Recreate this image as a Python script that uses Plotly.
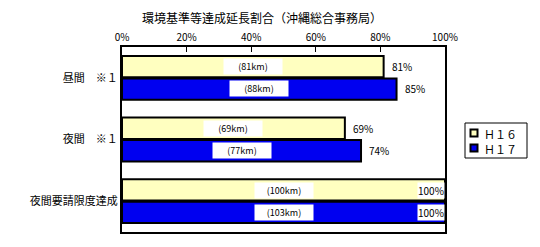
import plotly.graph_objects as go

categories = ["昼間　※１", "夜間　※１", "夜間要請限度達成"]
series_names = ["Ｈ１６", "Ｈ１７"]
h16_pct = [81, 69, 100]
h17_pct = [85, 74, 100]
h16_km = ["(81km)", "(69km)", "(100km)"]
h17_km = ["(88km)", "(77km)", "(103km)"]
tick_vals = [0, 20, 40, 60, 80, 100]
tick_text = ["0%", "20%", "40%", "60%", "80%", "100%"]
title_text = "環境基準等達成延長割合（沖縄総合事務局）"

colors = ["#FFFFC0", "#0000F0"]
FONT = "Noto Sans CJK JP"

W, H = 540, 247
L, R, T, B = 122, 95, 47, 15
plot_w = W - L - R
plot_h = H - T - B


def px_x(px):
    return (px - L) / plot_w


def px_y(py):
    return (H - B - py) / plot_h


fig = go.Figure()
for name, vals, col in zip(series_names, [h16_pct, h17_pct], colors):
    fig.add_trace(go.Bar(
        y=categories, x=vals, name=name, orientation="h",
        marker=dict(color=col, line=dict(color="black", width=2)),
        hoverinfo="skip", showlegend=False,
    ))

offsets = [-0.18, 0.18]
annotations = []
for si, (vals, kms) in enumerate([(h16_pct, h16_km), (h17_pct, h17_km)]):
    for ci, cat in enumerate(categories):
        v = vals[ci]
        yv = ci + offsets[si]
        annotations.append(dict(
            x=v / 2, y=yv, xref="x", yref="y", text=kms[ci], showarrow=False,
            bgcolor="white", font=dict(family=FONT, size=9, color="black"),
            borderpad=1, width=56, align="center",
        ))
        if v >= 100:
            annotations.append(dict(
                x=v, y=yv, xref="x", yref="y", text=f"{v}%", showarrow=False,
                xanchor="right", bgcolor="white",
                font=dict(family=FONT, size=10, color="black"), borderpad=0,
            ))
        else:
            annotations.append(dict(
                x=v, y=yv, xref="x", yref="y", text=f"{v}%", showarrow=False,
                xanchor="left", xshift=6,
                font=dict(family=FONT, size=10, color="black"),
            ))

annotations.append(dict(
    x=px_x(140), y=px_y(17), xref="paper", yref="paper", text=title_text,
    showarrow=False, xanchor="left", yanchor="middle",
    font=dict(family=FONT, size=12, color="black"),
))

# manual legend
shapes = [dict(
    type="rect", xref="paper", yref="paper",
    x0=px_x(465), x1=px_x(527), y0=px_y(158), y1=px_y(123),
    line=dict(color="black", width=1), fillcolor="white", layer="above",
)]
row_y = [133, 148]
for name, col, ry in zip(series_names, colors, row_y):
    shapes.append(dict(
        type="rect", xref="paper", yref="paper",
        x0=px_x(470.5), x1=px_x(477.5), y0=px_y(ry + 3.5), y1=px_y(ry - 3.5),
        line=dict(color="black", width=2), fillcolor=col, layer="above",
    ))
    annotations.append(dict(
        x=px_x(483), y=px_y(ry), xref="paper", yref="paper", text=name,
        showarrow=False, xanchor="left", yanchor="middle",
        font=dict(family=FONT, size=11, color="black"),
        height=13, borderpad=0,
    ))

fig.update_layout(
    width=W, height=H,
    margin=dict(l=L, r=R, t=T, b=B, autoexpand=False),
    paper_bgcolor="white", plot_bgcolor="white",
    barmode="group", bargap=0.27, bargroupgap=0.05,
    font=dict(family=FONT, size=10, color="black"),
    showlegend=False,
    xaxis=dict(
        side="top", range=[0, 100], tickvals=tick_vals, ticktext=tick_text,
        ticks="inside", ticklen=5, tickcolor="black", tickwidth=1,
        showline=True, linecolor="black", linewidth=2, mirror=True,
        showgrid=False, zeroline=False, fixedrange=True,
        tickfont=dict(family=FONT, size=10),
    ),
    yaxis=dict(
        autorange="reversed", showline=True, linecolor="black", linewidth=2,
        mirror=True, showgrid=False, ticks="", ticklen=0,
        tickfont=dict(family=FONT, size=11), fixedrange=True,
    ),
    annotations=annotations,
    shapes=shapes,
)

fig.write_html("out.html")
